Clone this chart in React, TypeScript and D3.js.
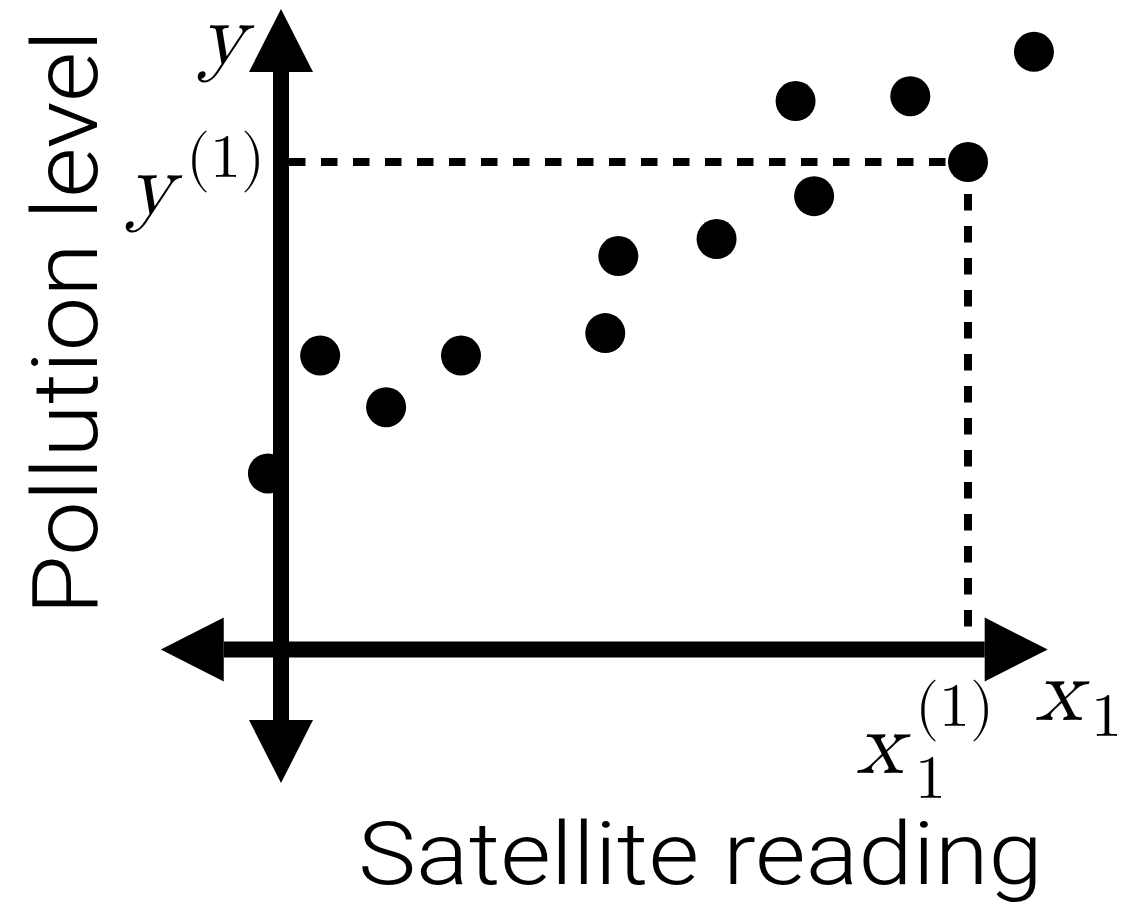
import React from "react";
import * as d3 from "d3";

// Observations: satellite reading (x1) against pollution level (y),
// in units where the highlighted example x1^(1), y^(1) sits at (1, 1).
const readings = [-0.019, 0.057, 0.153, 0.262, 0.472, 0.491, 0.634, 0.749, 0.776, 0.916, 1.0, 1.096];
const pollution = [0.361, 0.603, 0.497, 0.603, 0.649, 0.807, 0.842, 1.125, 0.93, 1.135, 1.0, 1.226];

// The highlighted training example
const exampleX = [1.0];
const exampleY = [1.0];

// Extent of the arrowed axes in data units
const xAxisExtent = [-0.175, 1.116];
const yAxisExtent = [-0.274, 1.314];

const W = 1129;
const H = 913;

const x = d3.scaleLinear().domain([0, 1]).range([281, 968]);
const y = d3.scaleLinear().domain([0, 1]).range([649.5, 162]);

const AXIS_W = 16;
const HEAD_L = 63;
const HEAD_HW = 32;

const sans = "Roboto, 'Helvetica Neue', Helvetica, Arial, sans-serif";
const serif = "'Latin Modern Math', 'CMU Serif', 'Liberation Serif', 'DejaVu Serif', serif";

export default function App() {
  const x0 = x(0);
  const y0 = y(0);
  const xl = x(xAxisExtent[0]);
  const xr = x(xAxisExtent[1]);
  const yt = y(yAxisExtent[1]);
  const yb = y(yAxisExtent[0]);

  const ex = x(exampleX[0]);
  const ey = y(exampleY[0]);

  const line = d3.line<[number, number]>();
  const tri = (pts: [number, number][]) => line(pts) + "Z";

  return (
    <svg width={W} height={H} style={{ position: "absolute", left: 0, top: 0, background: "#fff" }}>
      <rect width={W} height={H} fill="#fff" />

      {/* dashed guides to the highlighted example */}
      <g stroke="#000" strokeWidth={8} strokeDasharray="16.5 15.5" fill="none">
        <line x1={x0 + AXIS_W / 2} y1={ey} x2={ex} y2={ey} />
        <line x1={ex} y1={ey} x2={ex} y2={y0 - AXIS_W / 2} />
      </g>

      {/* axes */}
      <g fill="#000">
        <rect x={xl + HEAD_L} y={y0 - AXIS_W / 2} width={xr - xl - 2 * HEAD_L} height={AXIS_W} />
        <rect x={x0 - AXIS_W / 2} y={yt + HEAD_L} width={AXIS_W} height={yb - yt - 2 * HEAD_L} />
        <path d={tri([[xl, y0], [xl + HEAD_L, y0 - HEAD_HW], [xl + HEAD_L, y0 + HEAD_HW]])} />
        <path d={tri([[xr, y0], [xr - HEAD_L, y0 - HEAD_HW], [xr - HEAD_L, y0 + HEAD_HW]])} />
        <path d={tri([[x0, yt], [x0 - HEAD_HW, yt + HEAD_L], [x0 + HEAD_HW, yt + HEAD_L]])} />
        <path d={tri([[x0, yb], [x0 - HEAD_HW, yb - HEAD_L], [x0 + HEAD_HW, yb - HEAD_L]])} />
      </g>

      {/* data points */}
      <g fill="#000">
        {readings.map((r, i) => (
          <circle key={i} cx={x(r)} cy={y(pollution[i])} r={20} />
        ))}
      </g>

      {/* axis titles */}
      <text
        x={358}
        y={884}
        textLength={685}
        lengthAdjust="spacingAndGlyphs"
        fontFamily={sans}
        fontWeight={300}
        fontSize={88}
        fill="#000"
      >
        Satellite reading
      </text>
      <text
        transform="translate(97,615) rotate(-90)"
        textLength={585}
        lengthAdjust="spacingAndGlyphs"
        fontFamily={sans}
        fontWeight={300}
        fontSize={90}
        fill="#000"
      >
        Pollution level
      </text>

      {/* math labels */}
      <g fontFamily={serif} fill="#000">
        <text x={199} y={64} fontSize={90} fontStyle="italic">y</text>

        <text x={127} y={214} fontSize={90} fontStyle="italic">y</text>
        <text x={186} y={177} fontSize={62}>(1)</text>

        <text x={856} y={773} fontSize={90} fontStyle="italic">x</text>
        <text x={915} y={798} fontSize={62}>1</text>
        <text x={915} y={726} fontSize={62}>(1)</text>

        <text x={1035} y={720} fontSize={90} fontStyle="italic">x</text>
        <text x={1091} y={736} fontSize={62}>1</text>
      </g>
    </svg>
  );
}
